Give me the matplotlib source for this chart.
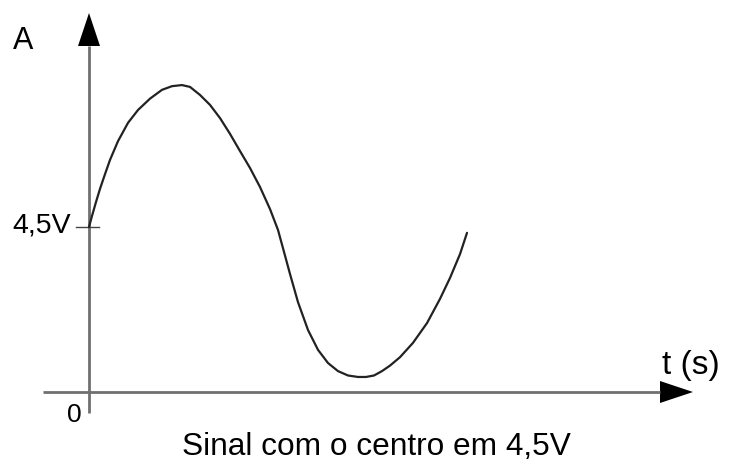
import matplotlib.pyplot as plt

plt.rcParams['font.family'] = ['Liberation Sans', 'DejaVu Sans']

# sinal lido ponto a ponto (t em unidades arbitrárias, A em volts)
t = [0.000, 0.079, 0.185, 0.291, 0.423, 0.556, 0.767, 1.032, 1.296, 1.614,
     1.931, 2.196, 2.460, 2.672, 2.937, 3.201, 3.466, 3.730, 3.995, 4.259,
     4.524, 4.788, 5.000, 5.159, 5.317, 5.529, 5.794, 6.058, 6.323, 6.587,
     6.852, 7.116, 7.328, 7.540, 7.751, 7.963, 8.228, 8.571, 8.942, 9.286,
     9.550, 9.815, 10.000]
A = [4.50, 4.80, 5.18, 5.54, 5.94, 6.33, 6.84, 7.34, 7.69, 8.00,
     8.24, 8.34, 8.37, 8.32, 8.10, 7.83, 7.47, 7.04, 6.57, 6.11,
     5.59, 4.99, 4.42, 3.82, 3.22, 2.45, 1.69, 1.15, 0.79, 0.57,
     0.45, 0.41, 0.41, 0.45, 0.57, 0.72, 0.95, 1.34, 1.88, 2.54,
     3.11, 3.76, 4.34]
centro = 4.5
rotulo_centro = '4,5V'
rotulo_x = 't (s)'
rotulo_y = 'A'
titulo = 'Sinal com o centro em 4,5V'

W, H = 737, 462
x0, y0 = 89, 392          # origem em pixels
sx, sy = 37.8, 36.67      # pixels por unidade


def px(x, y):
    # pixel -> fração da figura
    return x / W, 1 - y / H


fig = plt.figure(figsize=(W / 100, H / 100), dpi=100)
ax = fig.add_axes([0, 0, 1, 1])
ax.set_xlim(-x0 / sx, (W - x0) / sx)
ax.set_ylim(-(H - y0) / sy, y0 / sy)
ax.axis('off')

# eixos com setas
cor_eixo = '#707070'
t_ini, t_fim = -46 / sx, 604 / sx
a_ini, a_fim = -21 / sy, 379 / sy
seta_c, seta_l = 33, 11   # comprimento e meia largura da seta (px)

ax.plot([t_ini, t_fim - seta_c / sx], [0, 0], color=cor_eixo, lw=2.0,
        solid_capstyle='butt')
ax.plot([0, 0], [a_ini, a_fim - seta_c / sy], color=cor_eixo, lw=2.0,
        solid_capstyle='butt')
ax.fill([t_fim, t_fim - seta_c / sx, t_fim - seta_c / sx],
        [0, seta_l / sy, -seta_l / sy], color='black', lw=0)
ax.fill([0, seta_l / sx, -seta_l / sx],
        [a_fim, a_fim - seta_c / sy, a_fim - seta_c / sy], color='black', lw=0)

# marca do nível central
ax.plot([-13 / sx, 10 / sx], [centro, centro], color='#444444', lw=1.0)

# sinal
ax.plot(t, A, color='#222222', lw=1.6, solid_capstyle='round',
        solid_joinstyle='round')

fig.text(*px(13, 49), rotulo_y, fontsize=22, va='baseline', ha='left')
fig.text(*px(71, 233), rotulo_centro, fontsize=20.5, va='baseline', ha='right')
fig.text(*px(82, 422), '0', fontsize=19, va='baseline', ha='right')
fig.text(*px(662, 374), rotulo_x, fontsize=24, va='baseline', ha='left')
fig.text(*px(376, 455), titulo, fontsize=22.8, va='baseline', ha='center')

fig.savefig('out.png', dpi=100)
